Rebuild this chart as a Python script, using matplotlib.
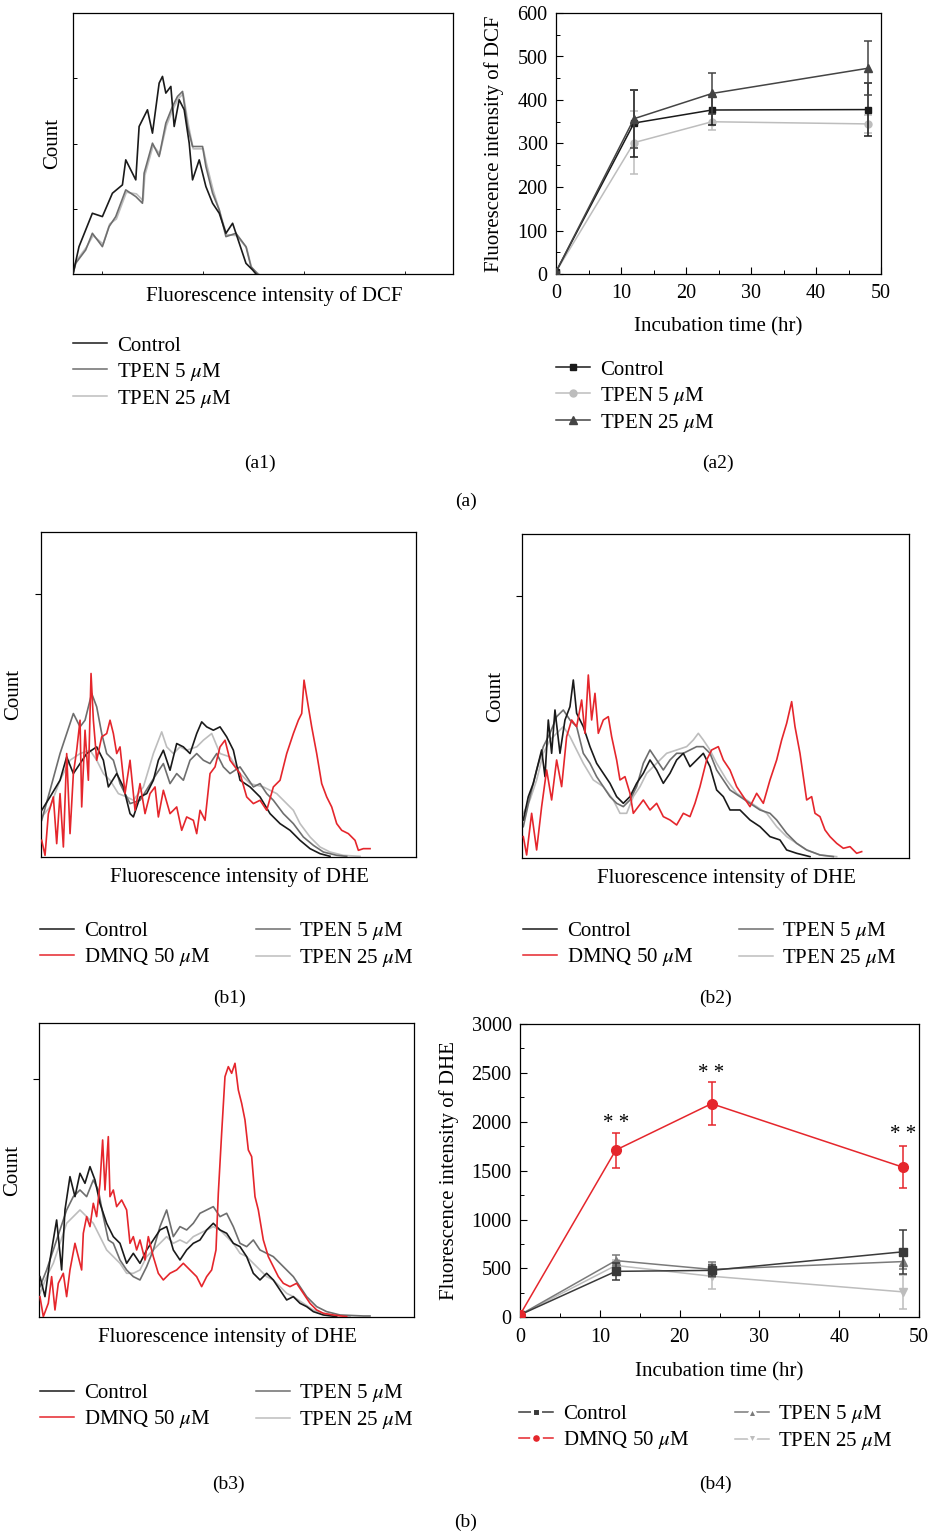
import numpy as np
import matplotlib
matplotlib.use("Agg")
import matplotlib.pyplot as plt
from matplotlib.lines import Line2D

plt.rcParams['font.family'] = ['Liberation Serif', 'DejaVu Serif']
plt.rcParams['mathtext.fontset'] = 'stix'

W, H = 931, 1533
RED = '#e5262c'
BLACK = '#1a1a1a'
DGRAY = '#6e6e6e'
LGRAY = '#bdbdbd'
MU = r'$\mu$'

# ---------------- histogram data (channel, count), arbitrary units ----------------
a1_control = [(0, 0), (18, 82), (58, 182), (88, 172), (118, 242), (148, 267), (158, 342), (188, 282),
              (198, 442), (223, 492), (238, 422), (258, 572), (268, 592), (278, 542), (293, 562),
              (303, 442), (318, 522), (333, 492), (348, 392), (358, 282), (378, 342), (398, 262),
              (418, 212), (438, 182), (458, 122), (478, 152), (498, 92), (518, 32), (538, 12), (548, 0)]
a1_tpen5 = [(0, 0), (8, 32), (38, 72), (58, 122), (88, 82), (108, 142), (128, 172), (158, 252), (188, 232),
            (208, 212), (213, 302), (238, 392), (258, 352), (278, 452), (298, 502), (313, 532), (328, 547),
            (343, 442), (358, 382), (388, 382), (398, 322), (418, 242), (438, 192), (458, 112), (488, 122),
            (518, 82), (533, 22), (553, 0)]
a1_tpen25 = [(0, 0), (10, 40), (40, 80), (60, 115), (90, 90), (110, 150), (130, 165), (160, 245), (190, 240),
             (210, 220), (215, 295), (240, 385), (260, 360), (280, 445), (300, 495), (315, 525), (330, 540),
             (345, 450), (360, 375), (390, 375), (400, 330), (420, 250), (440, 185), (460, 118), (490, 115),
             (520, 78), (535, 18), (556, 0)]

b1_dmnq = [(3, 50), (13, 5), (23, 130), (38, 180), (48, 40), (58, 190), (68, 30), (78, 310), (88, 70), (98, 250),
           (108, 320), (118, 410), (123, 150), (133, 380), (143, 230), (151, 550), (158, 410), (168, 290),
           (183, 360), (198, 370), (208, 410), (218, 370), (228, 310), (238, 330), (253, 190), (268, 290),
           (283, 140), (298, 220), (313, 130), (328, 190), (343, 210), (353, 120), (368, 200), (388, 130),
           (408, 150), (423, 80), (438, 120), (458, 110), (468, 70), (478, 140), (493, 110), (508, 250),
           (523, 270), (538, 330), (553, 350), (568, 290), (583, 270), (598, 250), (618, 180), (638, 160),
           (658, 170), (678, 140), (698, 210), (718, 230), (738, 310), (758, 370), (773, 410), (783, 430),
           (790, 530), (803, 450), (813, 390), (828, 310), (843, 220), (858, 180), (873, 150), (888, 100),
           (903, 80), (923, 70), (943, 50), (953, 20), (968, 25), (988, 25)]
b1_control = [(3, 140), (28, 180), (58, 230), (78, 300), (98, 250), (118, 280), (138, 310), (168, 330),
              (188, 290), (203, 210), (228, 250), (248, 210), (268, 130), (278, 120), (298, 180), (318, 190),
              (338, 230), (353, 290), (368, 320), (388, 260), (408, 340), (428, 330), (448, 310), (468, 370),
              (483, 405), (498, 390), (518, 380), (538, 390), (558, 360), (578, 320), (598, 230), (628, 210),
              (658, 180), (688, 130), (718, 100), (748, 80), (778, 50), (808, 25), (838, 10), (868, 2)]
b1_tpen5 = [(3, 110), (28, 200), (58, 310), (78, 370), (98, 430), (118, 390), (133, 410), (153, 490),
            (168, 450), (183, 370), (198, 310), (218, 290), (238, 220), (268, 160), (298, 170), (323, 210),
            (348, 250), (368, 280), (388, 220), (408, 250), (428, 230), (448, 290), (468, 310), (488, 290),
            (508, 280), (528, 310), (548, 270), (568, 250), (598, 270), (618, 240), (638, 210), (658, 220),
            (678, 190), (698, 170), (728, 130), (758, 100), (788, 60), (818, 35), (848, 15), (888, 5), (918, 2)]
b1_tpen25 = [(3, 120), (28, 150), (58, 230), (88, 290), (118, 310), (148, 320), (168, 290), (188, 250),
             (208, 230), (233, 190), (258, 180), (278, 170), (308, 210), (338, 310), (363, 375), (378, 330),
             (398, 310), (418, 330), (438, 320), (468, 330), (488, 350), (513, 370), (538, 310), (568, 300),
             (598, 250), (628, 220), (668, 210), (708, 190), (738, 160), (758, 140), (778, 100), (808, 60),
             (838, 30), (868, 15), (908, 5), (958, 2)]

b2_dmnq = [(3, 65), (13, 10), (28, 135), (43, 25), (58, 155), (73, 265), (88, 175), (103, 295), (118, 215),
           (133, 365), (148, 415), (163, 395), (178, 475), (188, 375), (198, 550), (208, 415), (218, 495),
           (228, 375), (243, 415), (258, 425), (268, 365), (283, 295), (293, 235), (308, 245), (323, 195),
           (333, 135), (348, 155), (363, 175), (383, 145), (403, 165), (423, 125), (443, 115), (463, 100),
           (483, 135), (503, 125), (518, 165), (533, 215), (553, 295), (568, 325), (588, 335), (603, 295),
           (623, 265), (643, 215), (663, 185), (683, 155), (703, 195), (723, 165), (743, 235), (763, 295),
           (778, 355), (793, 405), (808, 470), (818, 395), (833, 315), (843, 245), (853, 175), (868, 185),
           (878, 135), (893, 125), (908, 85), (923, 65), (943, 45), (963, 30), (983, 35), (1003, 15), (1018, 20)]
b2_control = [(3, 115), (18, 185), (33, 225), (48, 285), (58, 325), (68, 245), (78, 415), (88, 315), (98, 445),
              (113, 315), (128, 415), (143, 455), (153, 535), (163, 435), (183, 395), (203, 335), (223, 285),
              (243, 255), (263, 225), (283, 185), (303, 165), (323, 185), (343, 225), (363, 255), (383, 295),
              (403, 265), (423, 225), (443, 255), (463, 295), (483, 315), (503, 275), (523, 295), (543, 315),
              (563, 275), (583, 205), (603, 185), (623, 145), (653, 145), (683, 115), (713, 95), (743, 65),
              (773, 55), (793, 25), (823, 15), (863, 5)]
b2_tpen5 = [(3, 95), (23, 185), (43, 265), (63, 335), (83, 375), (103, 425), (123, 445), (143, 415), (163, 395),
            (183, 315), (203, 285), (223, 245), (243, 215), (263, 185), (283, 165), (303, 155), (323, 175),
            (343, 215), (363, 285), (383, 325), (403, 295), (423, 265), (443, 295), (463, 315), (483, 315),
            (503, 325), (523, 335), (543, 335), (563, 315), (583, 265), (603, 235), (623, 205), (653, 185),
            (683, 165), (713, 145), (743, 135), (763, 115), (793, 75), (823, 45), (853, 25), (893, 10), (933, 5)]
b2_tpen25 = [(3, 135), (23, 175), (43, 235), (63, 315), (83, 355), (103, 375), (123, 395), (143, 365),
             (163, 325), (183, 285), (213, 235), (243, 215), (273, 175), (293, 135), (313, 135), (333, 185),
             (353, 215), (373, 255), (393, 275), (413, 295), (433, 315), (463, 325), (493, 335), (513, 355),
             (528, 375), (543, 355), (563, 325), (583, 285), (613, 235), (643, 195), (673, 175), (703, 155),
             (733, 135), (763, 95), (793, 65), (823, 45), (853, 25), (893, 10), (943, 5)]

b3_dmnq = [(2, 62), (12, 2), (27, 42), (37, 122), (47, 22), (57, 102), (72, 132), (82, 62), (92, 142), (107, 222),
           (117, 182), (127, 142), (132, 252), (142, 302), (152, 272), (162, 342), (172, 302), (182, 402),
           (190, 532), (197, 382), (207, 542), (212, 362), (222, 382), (232, 332), (247, 352), (262, 322),
           (272, 222), (282, 242), (292, 202), (302, 232), (317, 172), (327, 242), (342, 182), (357, 132),
           (372, 112), (392, 132), (412, 142), (432, 162), (452, 142), (472, 122), (487, 92), (502, 122),
           (517, 142), (530, 202), (537, 372), (547, 552), (557, 722), (567, 752), (577, 732), (587, 762),
           (597, 682), (607, 642), (617, 592), (627, 502), (637, 482), (647, 362), (657, 322), (672, 232),
           (687, 182), (702, 152), (717, 122), (732, 102), (752, 92), (772, 102), (792, 72), (812, 42),
           (832, 22), (852, 12), (882, 7), (922, 2)]
b3_control = [(2, 122), (17, 62), (32, 172), (52, 292), (67, 142), (77, 322), (92, 422), (107, 362), (122, 432),
              (137, 402), (152, 452), (167, 412), (182, 342), (202, 282), (222, 242), (242, 222), (262, 162),
              (282, 192), (302, 162), (322, 202), (342, 232), (362, 262), (382, 272), (402, 202), (422, 172),
              (442, 202), (462, 222), (482, 232), (502, 262), (522, 282), (542, 262), (562, 252), (582, 222),
              (602, 212), (622, 182), (642, 132), (662, 112), (682, 132), (702, 112), (722, 82), (742, 52),
              (762, 62), (782, 42), (802, 32), (822, 17), (852, 7), (892, 2)]
b3_tpen5 = [(2, 92), (22, 142), (42, 202), (62, 262), (82, 322), (102, 362), (122, 382), (142, 362), (162, 412),
            (177, 382), (192, 302), (207, 232), (222, 222), (242, 172), (262, 142), (282, 122), (302, 112),
            (322, 152), (342, 202), (362, 272), (382, 322), (402, 242), (422, 272), (442, 262), (462, 282),
            (482, 312), (502, 322), (522, 332), (542, 302), (562, 312), (582, 272), (602, 222), (622, 212),
            (642, 232), (662, 202), (682, 192), (702, 182), (722, 162), (742, 142), (762, 122), (782, 92),
            (802, 62), (832, 32), (862, 17), (902, 7), (972, 4), (992, 4)]
b3_tpen25 = [(2, 72), (22, 122), (42, 162), (62, 222), (82, 282), (102, 302), (122, 322), (142, 302), (162, 282),
             (182, 242), (202, 202), (222, 182), (242, 162), (262, 132), (282, 132), (302, 142), (322, 182),
             (342, 202), (362, 222), (382, 242), (402, 222), (422, 232), (442, 222), (462, 242), (482, 252),
             (502, 262), (522, 272), (542, 262), (562, 242), (582, 222), (602, 192), (622, 182), (642, 162),
             (662, 142), (682, 122), (702, 112), (722, 92), (742, 72), (762, 62), (792, 42), (822, 22),
             (852, 12), (892, 4), (932, 2)]

# ---------------- time course data ----------------
hours = [0, 12, 24, 48]
a2_control = [5, 347, 377, 378]
a2_control_err = [0, 77, 35, 61]
a2_tpen5 = [5, 302, 350, 345]
a2_tpen5_err = [0, 73, 20, 20]
a2_tpen25 = [5, 357, 415, 473]
a2_tpen25_err = [0, 67, 47, 62]

b4_control = [25, 470, 480, 670]
b4_control_err = [0, 90, 60, 225]
b4_dmnq = [25, 1710, 2185, 1535]
b4_dmnq_err = [0, 180, 220, 215]
b4_tpen5 = [25, 580, 490, 570]
b4_tpen5_err = [0, 60, 80, 80]
b4_tpen25 = [25, 530, 420, 260]
b4_tpen25_err = [0, 60, 130, 170]
star_y = [1985, 2495, 1865]


def rect(l, t, r, b):
    return [l / W, 1 - b / H, (r - l) / W, (b - t) / H]


fig = plt.figure(figsize=(W / 100, H / 100), dpi=100)
FS = 15


def hist_axes(box, xmax, ymax, curves):
    ax = fig.add_axes(rect(*box))
    for pts, col, z in curves:
        xy = np.array(pts).T
        ax.plot(xy[0], xy[1], color=col, lw=1.2, zorder=z)
    ax.set_xlim(0, xmax)
    ax.set_ylim(0, ymax)
    ax.set_xticks([])
    for s in ax.spines.values():
        s.set_linewidth(0.9)
    ax.set_ylabel('Count', fontsize=FS, labelpad=6)
    return ax


# a1
ax = hist_axes((73, 13, 453, 274), 1138, 782,
               [(a1_tpen25, LGRAY, 1), (a1_tpen5, DGRAY, 2), (a1_control, BLACK, 3)])
ax.set_yticks([782 * 0.25, 782 * 0.5, 782 * 0.75])
ax.set_yticklabels([])
ax.tick_params(axis='y', direction='in', length=3, width=0.7)
ax.set_xticks([88, 388, 693, 993])
ax.set_xticklabels([])
ax.tick_params(axis='x', direction='in', length=2, width=0.6)
ax.set_xlabel('Fluorescence intensity of DCF', fontsize=FS, labelpad=5)
ax.xaxis.label.set_x(0.529)
ax.yaxis.labelpad = 4

# b1, b2, b3
for box, xmax, ymax, d, lx in [((40.7, 532, 415.7, 857), 1125, 974,
                                (b1_tpen25, b1_tpen5, b1_control, b1_dmnq), 0.531),
                               ((522.3, 534, 909, 858.3), 1160, 973,
                                (b2_tpen25, b2_tpen5, b2_control, b2_dmnq), 0.529),
                               ((39.3, 1023.3, 414, 1317.3), 1124, 882,
                                (b3_tpen25, b3_tpen5, b3_control, b3_dmnq), 0.503)]:
    ax = hist_axes(box, xmax, ymax, [(d[0], LGRAY, 1), (d[1], DGRAY, 2), (d[2], BLACK, 3), (d[3], RED, 4)])
    ax.set_yticks([ymax * 0.81])
    ax.set_yticklabels([])
    ax.tick_params(axis='y', direction='out', length=4, width=0.8)
    ax.set_xlabel('Fluorescence intensity of DHE', fontsize=FS, labelpad=7)
    ax.xaxis.label.set_x(lx)
    ax.yaxis.labelpad = 5


def line_axes(box, ymax, ystep, xpad):
    ax = fig.add_axes(rect(*box))
    ax.set_xlim(0, 50)
    ax.set_ylim(0, ymax)
    ax.set_xticks(range(0, 51, 10))
    ax.set_xticks(range(5, 50, 10), minor=True)
    ax.set_yticks(np.arange(0, ymax + 1, ystep))
    ax.set_yticks(np.arange(ystep / 2, ymax, ystep), minor=True)
    ax.tick_params(which='major', direction='in', length=5, width=0.8, labelsize=14.5, pad=6)
    ax.tick_params(axis='x', which='major', pad=xpad)
    ax.tick_params(which='minor', direction='in', length=3, width=0.7)
    for s in ax.spines.values():
        s.set_linewidth(0.9)
    ax.set_xlabel('Incubation time (hr)', fontsize=FS, labelpad=10.5)
    return ax


ek = dict(capsize=3, elinewidth=1.1, capthick=1.1, lw=1.1)

# a2
ax = line_axes((556, 13, 881, 274), 600, 100, 7)
ax.errorbar(hours, a2_tpen5, yerr=a2_tpen5_err, color=LGRAY, marker='o', ms=5, zorder=2, **ek)
ax.errorbar(hours, a2_control, yerr=a2_control_err, color=BLACK, marker='s', ms=5, zorder=3, **ek)
ax.errorbar(hours, a2_tpen25, yerr=a2_tpen25_err, color='#444444', marker='^', ms=6, zorder=4, **ek)
ax.set_ylabel('Fluorescence intensity of DCF', fontsize=FS, labelpad=10)

# b4
ax = line_axes((520, 1024, 919, 1317.3), 3000, 500, 8)
ax.errorbar(hours, b4_tpen25, yerr=b4_tpen25_err, color=LGRAY, marker='v', ms=6, zorder=2, **ek)
ax.errorbar(hours, b4_tpen5, yerr=b4_tpen5_err, color='#7a7a7a', marker='^', ms=6, zorder=3, **ek)
ax.errorbar(hours, b4_control, yerr=b4_control_err, color='#3a3a3a', marker='s', ms=5.5, zorder=4, **ek)
ax.errorbar(hours, b4_dmnq, yerr=b4_dmnq_err, color=RED, marker='o', ms=7, zorder=5, **ek)
for h, y in zip(hours[1:], star_y):
    ax.text(h, y, '* *', ha='center', va='center', fontsize=15)
ax.set_ylabel('Fluorescence intensity of DHE', fontsize=FS, labelpad=9)


# legends
def add_legend(handles, labels, x, y, ncol=1, colsp=2.0):
    fig.legend(handles, labels, loc='upper left', bbox_to_anchor=(x / W, 1 - y / H),
               bbox_transform=fig.transFigure, frameon=False, fontsize=FS, ncol=ncol,
               handlelength=1.65, handletextpad=0.45, labelspacing=0.24, borderpad=0,
               borderaxespad=0, columnspacing=colsp)


def ln(c, m=None, ms=5, gap=False):
    return Line2D([], [], color=c, lw=1.1, marker=m, ms=ms,
                  markeredgecolor='white' if gap else c, markeredgewidth=2.2 if gap else 1)


add_legend([ln(BLACK), ln(DGRAY), ln(LGRAY)],
           ['Control', 'TPEN 5 ' + MU + 'M', 'TPEN 25 ' + MU + 'M'], 73, 336)
add_legend([ln(BLACK, 's'), ln(LGRAY, 'o'), ln('#444444', '^', 6)],
           ['Control', 'TPEN 5 ' + MU + 'M', 'TPEN 25 ' + MU + 'M'], 556, 360)
hist_labels = ['Control', 'DMNQ 50 ' + MU + 'M', 'TPEN 5 ' + MU + 'M', 'TPEN 25 ' + MU + 'M']
for x, y in [(40, 920), (523, 920), (40, 1382)]:
    add_legend([ln(BLACK), ln(RED), ln(DGRAY), ln(LGRAY)], hist_labels, x, y, ncol=2, colsp=2.2)
add_legend([ln('#3a3a3a', 's', 6, True), ln(RED, 'o', 7, True), ln('#7a7a7a', '^', 7, True),
            ln(LGRAY, 'v', 7, True)], hist_labels, 519, 1403, ncol=2, colsp=2.2)

# panel labels
for s, x, y in [('(a1)', 260, 463), ('(a2)', 718, 463), ('(a)', 466, 501),
                ('(b1)', 229, 998), ('(b2)', 715, 998),
                ('(b3)', 228, 1484), ('(b4)', 715, 1484), ('(b)', 466, 1522)]:
    fig.text(x / W, 1 - y / H, s, ha='center', va='center', fontsize=14)

fig.savefig('out.png', dpi=100)
